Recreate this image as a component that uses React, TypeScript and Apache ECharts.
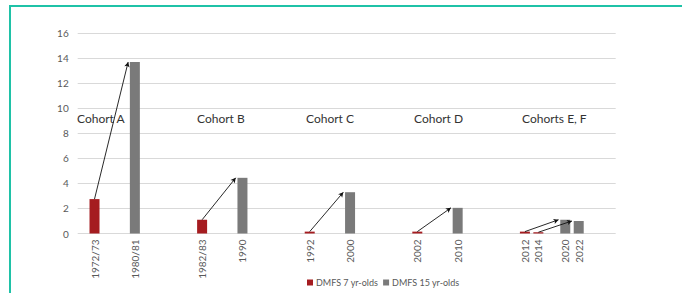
import React, { useEffect, useRef } from "react";
import * as echarts from "echarts";

const yearLabels = ["1972/73", "1980/81", "1982/83", "1990", "1992", "2000", "2002", "2010", "2012", "2014", "2020", "2022"];
// slot of each label on a fine category grid (blank categories in between)
const labelSlots = [2, 8, 18, 24, 34, 40, 50, 56, 66, 68, 72, 74];
const slotCount = 80;
const dmfs7 = [2.75, null, 1.1, null, 0.15, null, 0.15, null, 0.15, 0.1, null, null];
const dmfs15 = [null, 13.7, null, 4.45, null, 3.3, null, 2.05, null, null, 1.1, 1.0];
const arrows: [string, string][] = [
  ["1972/73", "1980/81"],
  ["1982/83", "1990"],
  ["1992", "2000"],
  ["2002", "2010"],
  ["2012", "2020"],
  ["2014", "2022"],
];
const cohortNames = ["Cohort A", "Cohort B", "Cohort C", "Cohort D", "Cohorts E, F"];
const yTicks = { min: 0, max: 16, interval: 2 };

export default function App() {
  const ref = useRef<HTMLDivElement>(null);
  useEffect(() => {
    if (!ref.current) return;
    const chart = echarts.init(ref.current, null, { renderer: "svg" });
    const categories: string[] = Array(slotCount).fill("");
    const d7: (number | null)[] = Array(slotCount).fill(null);
    const d15: (number | null)[] = Array(slotCount).fill(null);
    yearLabels.forEach((l, i) => {
      categories[labelSlots[i]] = l;
      d7[labelSlots[i]] = dmfs7[i];
      d15[labelSlots[i]] = dmfs15[i];
    });
    const idx = (l: string) => yearLabels.indexOf(l);
    const arrowData = arrows.map(([a, b]) => [
      { coord: [labelSlots[idx(a)], dmfs7[idx(a)]] },
      { coord: [labelSlots[idx(b)] - 0.7, dmfs15[idx(b)]] },
    ]);
    const font = "Lato, 'Open Sans', sans-serif";
    const cohortX = [77, 197, 306, 414, 522];
    chart.setOption({
      animation: false,
      grid: { left: 77.7, right: 66.3, top: 33.3, bottom: 59.5 },
      xAxis: {
        type: "category",
        data: categories,
        axisLine: { show: false },
        axisTick: { show: false },
        axisLabel: { interval: 0, rotate: 90, fontSize: 10, color: "#595959", fontFamily: font, margin: 6 },
      },
      yAxis: {
        type: "value",
        ...yTicks,
        axisLine: { show: false },
        axisTick: { show: false },
        axisLabel: { fontSize: 10, color: "#595959", fontFamily: font, margin: 9 },
        splitLine: { lineStyle: { color: "#d9d9d9", width: 1 } },
      },
      legend: {
        bottom: 1,
        left: 302,
        itemWidth: 6,
        itemHeight: 6,
        itemGap: 5,
        icon: "rect",
        textStyle: { fontSize: 9, color: "#595959", fontFamily: font, padding: [0, 0, 0, -2] },
        data: ["DMFS 7 yr-olds", "DMFS 15 yr-olds"],
      },
      series: [
        {
          name: "DMFS 7 yr-olds",
          type: "bar",
          data: d7,
          barWidth: 10,
          barGap: "-100%",
          itemStyle: { color: "#a51c20" },
          markLine: {
            silent: true,
            symbol: ["none", "arrow"],
            symbolSize: [4, 5],
            label: { show: false },
            lineStyle: { color: "#111", width: 0.9, type: "solid" },
            data: arrowData,
          },
        },
        {
          name: "DMFS 15 yr-olds",
          type: "bar",
          data: d15,
          barWidth: 10,
          barGap: "-100%",
          itemStyle: { color: "#7a7a7a" },
        },
      ],
      graphic: cohortNames.map((n, i) => ({
        type: "text",
        left: cohortX[i],
        top: 112,
        style: { text: n, fontSize: 12, fill: "#333", fontFamily: font },
      })),
    });
    return () => chart.dispose();
  }, []);
  return (
    <div style={{ position: "fixed", left: 0, top: 0, width: 682, height: 293, background: "#fff" }}>
      <div
        style={{
          position: "absolute",
          left: 9,
          top: 5,
          right: 0,
          bottom: 0,
          borderTop: "2px solid #1fc2a7",
          borderLeft: "2px solid #1fc2a7",
        }}
      />
      <div ref={ref} style={{ position: "absolute", left: 0, top: 0, width: 682, height: 293 }} />
    </div>
  );
}
